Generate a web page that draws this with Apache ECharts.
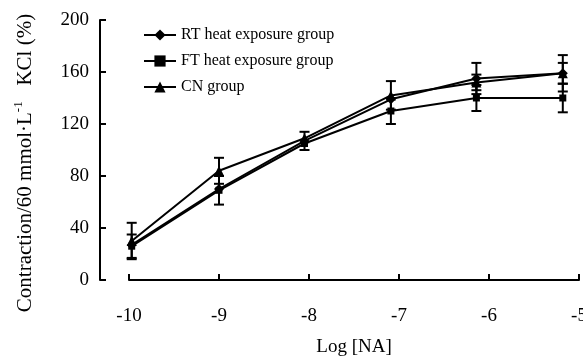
<!DOCTYPE html>
<html>
<head>
<meta charset="utf-8">
<script src="https://cdn.jsdelivr.net/npm/echarts@6/dist/echarts.min.js"></script>
<style>
  html, body { margin: 0; background: #fff; }
  #chart { width: 583px; height: 359px; }
</style>
</head>
<body>
<div id="chart"></div>
<script>
// x positions (Log [NA])
const logNA = [-9.97, -9.0, -8.05, -7.09, -6.14, -5.18];

const rtMean = [27, 70, 107, 139, 155, 159];
const rtErr = [0, 0, 7, 0, 12, 14];

const ftMean = [26, 69, 105, 130, 140, 140];
const ftErr = [9, 11, 0, 10, 10, 11];

const cnMean = [30, 84, 109, 142, 152, 159];
const cnErr = [14, 10, 0, 11, 6, 8];

const groupNames = ['RT heat exposure group', 'FT heat exposure group', 'CN group'];
const yTicks = [0, 40, 80, 120, 160, 200];
const xTicks = [-10, -9, -8, -7, -6, -5];

const FONT = 'Liberation Serif';

const chart = echarts.init(document.getElementById('chart'));

const pairs = mean => logNA.map((x, i) => [x, mean[i]]);
const bars = (mean, err) =>
  logNA.map((x, i) => [x, mean[i] - err[i], mean[i] + err[i]]).filter((d, i) => err[i] > 0);

function renderErrorBar(params, api) {
  const lo = api.coord([api.value(0), api.value(1)]);
  const hi = api.coord([api.value(0), api.value(2)]);
  const w = 5;
  const st = { stroke: '#000', lineWidth: 2 };
  return {
    type: 'group',
    children: [
      { type: 'line', shape: { x1: lo[0], y1: lo[1], x2: hi[0], y2: hi[1] }, style: st },
      { type: 'line', shape: { x1: lo[0] - w, y1: lo[1], x2: lo[0] + w, y2: lo[1] }, style: st },
      { type: 'line', shape: { x1: hi[0] - w, y1: hi[1], x2: hi[0] + w, y2: hi[1] }, style: st },
    ],
  };
}

const lineSeries = (name, mean, symbol, size) => ({
  name,
  type: 'line',
  data: pairs(mean),
  symbol,
  symbolSize: size,
  lineStyle: { color: '#000', width: 2 },
  itemStyle: { color: '#000' },
  z: 3,
});

const errSeries = (mean, err) => ({
  type: 'custom',
  data: bars(mean, err),
  encode: { x: 0, y: [1, 2] },
  renderItem: renderErrorBar,
  silent: true,
  z: 2,
});

const option = {
  animation: false,
  textStyle: { fontFamily: FONT, color: '#000' },
  legend: {
    data: groupNames,
    orient: 'vertical',
    left: 138,
    top: 22,
    itemWidth: 32,
    itemHeight: 14,
    itemGap: 10,
    textStyle: { fontFamily: FONT, fontSize: 16, color: '#000' },
  },
  grid: { left: 129, right: 4, top: 20, bottom: 79, outerBoundsMode: 'none' },
  xAxis: {
    type: 'value',
    min: xTicks[0],
    max: xTicks[xTicks.length - 1],
    interval: 1,
    offset: 18,
    name: 'Log [NA]',
    nameLocation: 'middle',
    nameGap: 40,
    nameTextStyle: { fontFamily: FONT, fontSize: 19, color: '#000' },
    axisLine: { lineStyle: { color: '#000', width: 2 } },
    axisTick: { inside: true, length: 6, lineStyle: { color: '#000', width: 2 } },
    axisLabel: { fontFamily: FONT, fontSize: 19, color: '#000', margin: 9 },
    splitLine: { show: false },
  },
  yAxis: {
    type: 'value',
    min: yTicks[0],
    max: yTicks[yTicks.length - 1],
    interval: 40,
    offset: 29,
    name: '{t|Contraction/60 mmol·L}{s|-1}{t|   KCl (%)}',
    nameLocation: 'middle',
    nameRotate: 90,
    nameGap: 62,
    nameTextStyle: {
      padding: [0, 26, 0, 0],
      rich: {
        t: { fontFamily: FONT, fontSize: 21, color: '#000', lineHeight: 26 },
        s: { fontFamily: FONT, fontSize: 13, color: '#000', lineHeight: 26, verticalAlign: 'top', padding: [0, 0, 12, 0] },
      },
    },
    axisLine: { lineStyle: { color: '#000', width: 2 } },
    axisTick: { inside: true, length: 6, lineStyle: { color: '#000', width: 2 } },
    axisLabel: { fontFamily: FONT, fontSize: 19, color: '#000', margin: 11 },
    splitLine: { show: false },
  },
  series: [
    errSeries(rtMean, rtErr),
    errSeries(ftMean, ftErr),
    errSeries(cnMean, cnErr),
    lineSeries(groupNames[0], rtMean, 'diamond', 10),
    lineSeries(groupNames[1], ftMean, 'rect', 7),
    lineSeries(groupNames[2], cnMean, 'triangle', 10),
  ],
};

chart.setOption(option);
</script>
</body>
</html>
